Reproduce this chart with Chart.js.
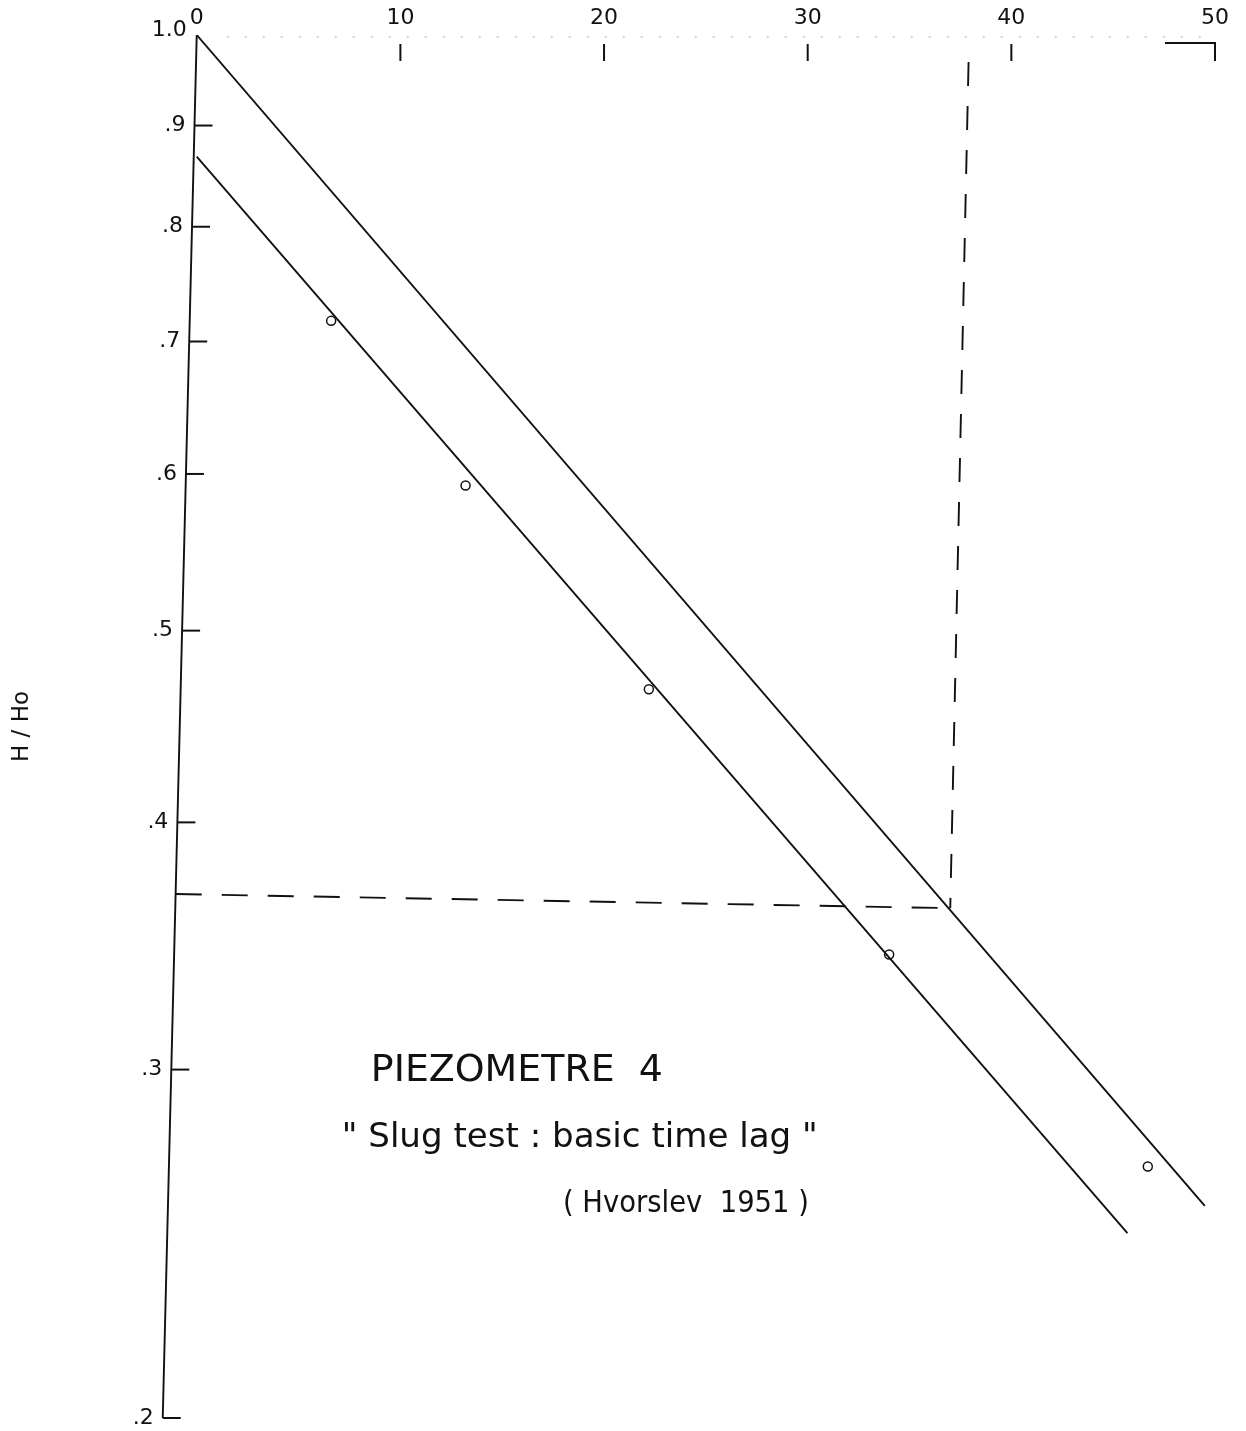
<!DOCTYPE html>
<html>
<head>
<meta charset="utf-8">
<script src="https://cdn.jsdelivr.net/npm/chart.js@4.4.1/dist/chart.umd.min.js"></script>
<style>
html, body { margin: 0; padding: 0; background: #fff; }
#wrap { width: 1246px; height: 1431px; position: relative; }
</style>
</head>
<body>
<div id="wrap"><canvas id="slugChart"></canvas></div>
<script>
// readings: time on top axis, H/Ho on log axis
const obsTime = [6.6, 13.2, 22.2, 34.0, 46.7];
const obsRatio = [0.717, 0.592, 0.467, 0.343, 0.268];

const upperTime = [0, 49.5];
const upperRatio = [1.0, 0.256];
const lowerTime = [0, 45.7];
const lowerRatio = [0.868, 0.248];

// 0.37 construction (dashed)
const lagHTime = [-1.03, 37.0];
const lagHRatio = [0.368, 0.362];
const lagVTime = [37.9, 37.0];
const lagVRatio = [0.969, 0.362];

// the hand drawn y axis leans a little
const axisTime = [0, -1.67];
const axisRatio = [1.0, 0.2];

const xTicks = [0, 10, 20, 30, 40, 50];
const yTicks = [0.2, 0.3, 0.4, 0.5, 0.6, 0.7, 0.8, 0.9, 1.0];
const yTickLabels = ['.2', '.3', '.4', '.5', '.6', '.7', '.8', '.9', '1.0'];

// captions: [text, left time, baseline H/Ho, width px, font px]
const captions = [
  ['PIEZOMETRE  4', 8.55, 0.296, 292, 38],
  ['" Slug test : basic time lag "', 7.12, 0.274, 476, 34],
  ['( Hvorslev  1951 )', 17.98, 0.2542, 246, 31]
];

const INK = '#111';
const FONT = '"DejaVu Sans", "Liberation Sans", sans-serif';

function pts(xs, ys) {
  return xs.map((x, i) => ({ x: x, y: ys[i] }));
}

function lineSet(xs, ys, dash) {
  return {
    data: pts(xs, ys),
    showLine: true,
    borderColor: INK,
    borderWidth: 1.9,
    borderDash: dash || [],
    pointRadius: 0,
    fill: false
  };
}

const handAxes = {
  id: 'handAxes',
  afterDatasetsDraw(chart) {
    const ctx = chart.ctx;
    const xs = chart.scales.x;
    const ys = chart.scales.y;
    const top = chart.chartArea.top;

    const ax0 = xs.getPixelForValue(axisTime[0]), ay0 = ys.getPixelForValue(axisRatio[0]);
    const ax1 = xs.getPixelForValue(axisTime[1]), ay1 = ys.getPixelForValue(axisRatio[1]);
    const axisXAt = py => ax0 + (ax1 - ax0) * (py - ay0) / (ay1 - ay0);

    ctx.save();
    ctx.strokeStyle = INK;
    ctx.fillStyle = INK;
    ctx.lineWidth = 2;
    ctx.font = '22px ' + FONT;
    ctx.textAlign = 'right';
    ctx.textBaseline = 'middle';
    yTicks.forEach((v, i) => {
      const py = ys.getPixelForValue(v);
      const px = axisXAt(py);
      if (v < 1) {
        ctx.beginPath();
        ctx.moveTo(px, py);
        ctx.lineTo(px + 18, py);
        ctx.stroke();
        ctx.fillText(yTickLabels[i], px - 9, py);
      } else {
        ctx.fillText(yTickLabels[i], px - 10, py - 5);
      }
    });

    // dotted top axis with short ticks hanging under it
    ctx.strokeStyle = '#aaa';
    ctx.lineWidth = 1.2;
    ctx.setLineDash([2, 16]);
    ctx.beginPath();
    ctx.moveTo(xs.getPixelForValue(0) + 30, top + 2);
    ctx.lineTo(xs.getPixelForValue(50), top + 2);
    ctx.stroke();
    ctx.setLineDash([]);
    ctx.strokeStyle = INK;
    ctx.lineWidth = 2;
    xTicks.forEach(v => {
      if (v === 0) return;
      const px = xs.getPixelForValue(v);
      ctx.beginPath();
      ctx.moveTo(px, top + 9);
      ctx.lineTo(px, top + 26);
      ctx.stroke();
    });
    const p50 = xs.getPixelForValue(50);
    ctx.beginPath();
    ctx.moveTo(p50 - 50, top + 8);
    ctx.lineTo(p50, top + 8);
    ctx.lineTo(p50, top + 26);
    ctx.stroke();

    // captions
    ctx.textAlign = 'left';
    ctx.textBaseline = 'alphabetic';
    captions.forEach(c => {
      ctx.font = c[4] + 'px ' + FONT;
      const w = ctx.measureText(c[0]).width;
      ctx.save();
      ctx.translate(xs.getPixelForValue(c[1]), ys.getPixelForValue(c[2]));
      ctx.scale(c[3] / w, 1);
      ctx.fillText(c[0], 0, 0);
      ctx.restore();
    });
    ctx.restore();
  }
};

new Chart(document.getElementById('slugChart'), {
  type: 'scatter',
  data: {
    datasets: [
      lineSet(axisTime, axisRatio),
      lineSet(upperTime, upperRatio),
      lineSet(lowerTime, lowerRatio),
      lineSet(lagHTime, lagHRatio, [26, 20]),
      lineSet(lagVTime, lagVRatio, [24, 20]),
      {
        data: pts(obsTime, obsRatio),
        showLine: false,
        pointRadius: 4.5,
        pointStyle: 'circle',
        pointBackgroundColor: '#fff',
        pointBorderColor: INK,
        pointBorderWidth: 1.5
      }
    ]
  },
  options: {
    responsive: true,
    maintainAspectRatio: false,
    animation: false,
    layout: { padding: { left: 0, right: 31, top: 0, bottom: 13 } },
    plugins: {
      legend: { display: false },
      tooltip: { enabled: false }
    },
    scales: {
      x: {
        type: 'linear',
        position: 'top',
        min: -2,
        max: 50,
        grid: { display: false },
        border: { display: false },
        afterBuildTicks: s => { s.ticks = xTicks.map(v => ({ value: v })); },
        afterFit: s => { s.height = 35; },
        ticks: {
          color: INK,
          padding: -4,
          font: { size: 22, family: FONT },
          callback: v => String(v)
        }
      },
      y: {
        type: 'logarithmic',
        min: 0.2,
        max: 1.0,
        grid: { display: false },
        border: { display: false },
        afterBuildTicks: s => { s.ticks = yTicks.map(v => ({ value: v })); },
        afterFit: s => { s.width = 156; },
        ticks: { display: false },
        title: {
          display: true,
          text: 'H / Ho',
          color: INK,
          padding: { top: 8, bottom: 0 },
          font: { size: 23, family: FONT }
        }
      }
    }
  },
  plugins: [handAxes]
});
</script>
</body>
</html>
